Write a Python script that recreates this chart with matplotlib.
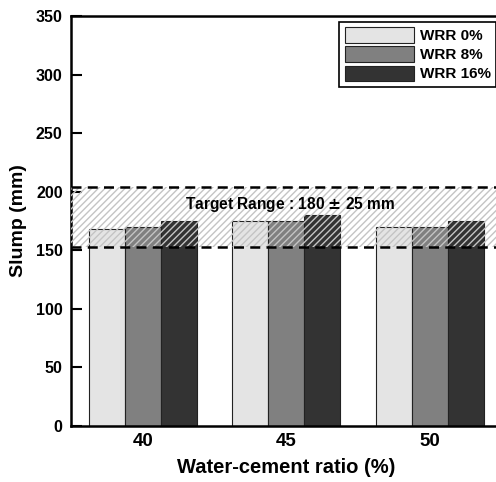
import matplotlib.pyplot as plt
import numpy as np

plt.rcParams['font.family'] = ['Liberation Sans', 'DejaVu Sans']
plt.rcParams['font.weight'] = 'bold'

ratios = ['40', '45', '50']
series = ['WRR 0%', 'WRR 8%', 'WRR 16%']
slump = [
    [168, 175, 170],
    [170, 175, 170],
    [175, 180, 175],
]
colors = ['#e4e4e4', '#808080', '#333333']
band_low, band_high = 153, 204
target_text = 'Target Range : 180 $\\pm$ 25 mm'

fig = plt.figure(figsize=(4.96, 4.82), dpi=100)
ax = fig.add_axes([71 / 496, 56 / 482, 430.5 / 496, 410 / 482])

x = np.arange(len(ratios))
w = 0.25
for i, (name, vals) in enumerate(zip(series, slump)):
    ax.bar(x + (i - 1) * w, vals, w, color=colors[i], edgecolor='#222222',
           linewidth=0.8, label=name, zorder=2)

# target band
ax.fill_between([-0.5, 2.5], band_low, band_high, facecolor='none',
                edgecolor='#c4c4c4', hatch='/////', linewidth=0, zorder=3)
for yv in (band_low, band_high):
    ax.axhline(yv, color='black', linestyle=(0, (4, 2.5)), linewidth=1.8, zorder=4)
ax.text(1.03, 189.5, target_text, ha='center', va='center', fontsize=11.2,
        fontweight='bold', zorder=5)

ax.set_xlim(-0.5, 2.5)
ax.set_ylim(0, 350)
ax.set_xticks(x)
ax.set_xticklabels(ratios, fontsize=13.5, fontweight='bold')
ax.set_yticks(np.arange(0, 351, 50))
ax.tick_params(axis='y', direction='in', length=8, width=1.5, labelsize=11.5, pad=6)
ax.tick_params(axis='x', length=0, pad=5)
for s in ax.spines.values():
    s.set_linewidth(1.8)

ax.set_xlabel('Water-cement ratio (%)', fontsize=14.5, fontweight='bold', labelpad=6)
ax.set_ylabel('Slump (mm)', fontsize=14, fontweight='bold', labelpad=6)

leg = ax.legend(loc='upper right', bbox_to_anchor=((496 - 71) / 430.5, 1 - 6 / 410),
                fontsize=11, fancybox=False, edgecolor='black', framealpha=1,
                handlelength=4.5, handleheight=1.15, labelspacing=0.22,
                borderpad=0.35, handletextpad=0.4, borderaxespad=0)
leg.get_frame().set_linewidth(1.2)
for t in leg.get_texts():
    t.set_fontweight('bold')

fig.savefig('out.png', dpi=100)
